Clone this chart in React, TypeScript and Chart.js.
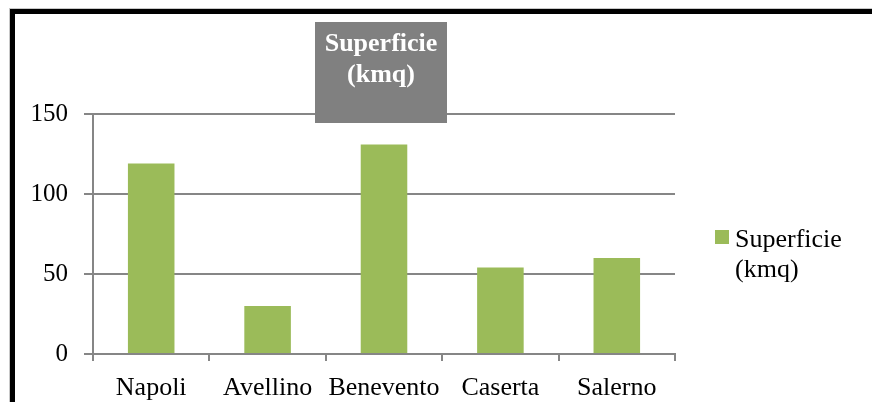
import React, { useEffect, useRef } from "react";
import { Chart, registerables } from "chart.js";

Chart.register(...registerables);

const categories = ["Napoli", "Avellino", "Benevento", "Caserta", "Salerno"];
const superficie = [119, 30, 131, 54, 60];
const seriesLabel = "Superficie (kmq)";
const titleLines = ["Superficie", "(kmq)"];
const legendLines = ["Superficie", "(kmq)"];

const FONT = "'Liberation Serif', serif";
const BAR = "#9BBB59";
const GRID = "#868686";

export default function App() {
  const ref = useRef<HTMLCanvasElement | null>(null);

  useEffect(() => {
    if (!ref.current) return;
    const overlay = {
      id: "overlay",
      afterDraw(chart: any) {
        const ctx = chart.ctx;
        ctx.save();
        // outer frame
        ctx.fillStyle = "#c8c8c8";
        ctx.fillRect(9, 8, 872, 1);
        ctx.fillRect(9, 8, 1, 402);
        ctx.fillStyle = "#000";
        ctx.fillRect(10, 9, 872, 5);
        ctx.fillRect(10, 9, 5, 402);
        // title box
        ctx.fillStyle = "#808080";
        ctx.fillRect(315, 22, 132, 101);
        ctx.fillStyle = "#ffffff";
        ctx.font = `bold 26px ${FONT}`;
        ctx.textAlign = "center";
        ctx.textBaseline = "alphabetic";
        ctx.fillText(titleLines[0], 381, 51);
        ctx.fillText(titleLines[1], 381, 82);
        // legend
        ctx.fillStyle = BAR;
        ctx.fillRect(715, 230, 14, 14);
        ctx.fillStyle = "#000";
        ctx.font = `26px ${FONT}`;
        ctx.textAlign = "left";
        ctx.fillText(legendLines[0], 735, 247);
        ctx.fillText(legendLines[1], 735, 277);
        ctx.restore();
      },
    };

    const chart = new Chart(ref.current, {
      type: "bar",
      data: {
        labels: categories,
        datasets: [
          {
            label: seriesLabel,
            data: superficie,
            backgroundColor: BAR,
            barPercentage: 0.4,
            categoryPercentage: 1,
          },
        ],
      },
      options: {
        animation: false,
        responsive: false,
        devicePixelRatio: 1,
        layout: { padding: { left: 0, top: 114, right: 197, bottom: 0 } },
        plugins: {
          legend: { display: false },
          title: { display: false },
          tooltip: { enabled: false },
        },
        scales: {
          x: {
            offset: true,
            afterFit(scale: any) {
              scale.height = 48;
            },
            grid: {
              display: true,
              drawOnChartArea: false,
              drawTicks: true,
              tickLength: 7,
              color: GRID,
              lineWidth: 2,
            },
            border: { display: true, color: GRID, width: 2 },
            ticks: {
              color: "#000",
              padding: 12,
              maxRotation: 0,
              autoSkip: false,
              font: { family: FONT, size: 26 },
            },
          },
          y: {
            min: 0,
            max: 150,
            afterFit(scale: any) {
              scale.width = 93;
            },
            grid: {
              color: GRID,
              lineWidth: 2,
              tickLength: 9,
              drawTicks: true,
            },
            border: { display: true, color: GRID, width: 2 },
            ticks: {
              stepSize: 50,
              color: "#000",
              padding: 16,
              font: { family: FONT, size: 25 },
            },
          },
        },
      },
      plugins: [overlay],
    });
    return () => chart.destroy();
  }, []);

  return (
    <div style={{ position: "absolute", left: 0, top: 0, width: 872, height: 402, background: "#fff" }}>
      <canvas ref={ref} width={872} height={402} style={{ display: "block" }} />
    </div>
  );
}
